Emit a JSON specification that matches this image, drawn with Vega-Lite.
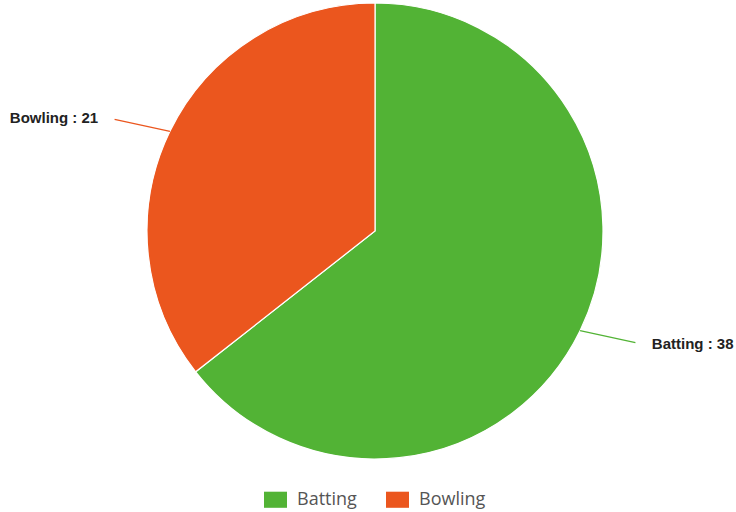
{
  "$schema": "https://vega.github.io/schema/vega-lite/v6.json",
  "width": 722,
  "height": 462,
  "autosize": {"type": "none"},
  "padding": {"left": 14, "top": 0, "right": 0, "bottom": 50},
  "background": "white",
  "config": {"view": {"stroke": null}},
  "data": {"values": [
    {"category": "Batting", "value": 38},
    {"category": "Bowling", "value": 21}
  ]},
  "transform": [
    {"window": [{"op": "sum", "field": "value", "as": "cum"}], "sort": [{"field": "category"}]},
    {"joinaggregate": [{"op": "sum", "field": "value", "as": "total"}]},
    {"calculate": "2*PI*(datum.cum - datum.value/2)/datum.total", "as": "mid"},
    {"calculate": "sin(datum.mid)", "as": "sx"},
    {"calculate": "cos(datum.mid)", "as": "sy"},
    {"calculate": "sin(datum.mid)*1.27", "as": "ex"},
    {"calculate": "cos(datum.mid)*1.12", "as": "ey"},
    {"calculate": "sin(datum.mid)*1.35", "as": "lx"},
    {"calculate": "cos(datum.mid)*1.13", "as": "ly"},
    {"calculate": "datum.category + ' : ' + datum.value", "as": "label"}
  ],
  "layer": [
    {
      "mark": {"type": "arc", "outerRadius": 228, "stroke": "white", "strokeWidth": 1.2},
      "encoding": {
        "theta": {"field": "value", "type": "quantitative", "stack": true},
        "order": {"field": "category"},
        "color": {
          "field": "category",
          "type": "nominal",
          "scale": {"domain": ["Batting", "Bowling"], "range": ["#52b335", "#eb561e"]},
          "legend": {
            "title": null,
            "orient": "none",
            "legendX": 250,
            "legendY": 488,
            "direction": "horizontal",
            "symbolType": "M-1,-0.7H1V0.7H-1Z",
            "symbolSize": 529,
            "symbolStrokeWidth": 0,
            "symbolOpacity": 1,
            "labelFont": "Open Sans",
            "labelFontSize": 18,
            "labelColor": "#555555",
            "labelOffset": 10,
            "columnPadding": 29,
            "padding": 0
          }
        }
      }
    },
    {
      "mark": {"type": "rule", "strokeWidth": 1.2},
      "encoding": {
        "x": {"field": "sx", "type": "quantitative", "axis": null, "scale": {"domain": [-1, 1], "range": [133, 589], "nice": false, "zero": false}},
        "y": {"field": "sy", "type": "quantitative", "axis": null, "scale": {"domain": [-1, 1], "range": [459, 3], "nice": false, "zero": false}},
        "x2": {"field": "ex"},
        "y2": {"field": "ey"},
        "color": {"field": "category", "type": "nominal"}
      }
    },
    {
      "transform": [{"filter": "datum.sx < 0"}],
      "mark": {"type": "text", "align": "right", "baseline": "middle", "font": "Liberation Sans", "fontSize": 15, "fontWeight": "bold", "color": "#222222"},
      "encoding": {
        "x": {"field": "lx", "type": "quantitative"},
        "y": {"field": "ly", "type": "quantitative"},
        "text": {"field": "label"}
      }
    },
    {
      "transform": [{"filter": "datum.sx >= 0"}],
      "mark": {"type": "text", "align": "left", "baseline": "middle", "font": "Liberation Sans", "fontSize": 15, "fontWeight": "bold", "color": "#222222"},
      "encoding": {
        "x": {"field": "lx", "type": "quantitative"},
        "y": {"field": "ly", "type": "quantitative"},
        "text": {"field": "label"}
      }
    }
  ]
}
